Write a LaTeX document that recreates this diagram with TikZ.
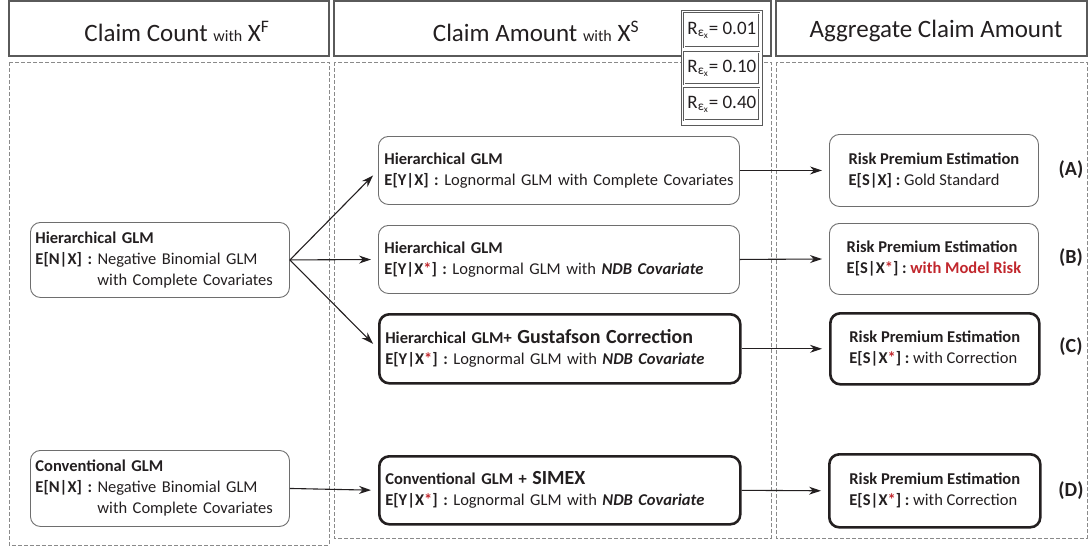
\documentclass[tikz,border=0pt]{standalone}
\usepackage{fontspec}
\setmainfont{Carlito}
\usetikzlibrary{arrows.meta}
\definecolor{txt}{HTML}{231F20}
\definecolor{boxgray}{HTML}{6E6E6E}
\definecolor{hdrgray}{HTML}{5A5A5A}
\definecolor{dashgray}{HTML}{8A8A8A}
\definecolor{errred}{HTML}{C1272D}
\newcommand{\rs}{\textcolor{errred}{*}}
\frenchspacing
\tikzset{
  hdrbox/.style={draw=hdrgray, line width=1.2pt},
  panel/.style={draw=dashgray, line width=0.7pt, dash pattern=on 4pt off 2pt},
  title/.style={text=txt, font=\fontsize{25}{28}\selectfont, anchor=center, inner sep=0pt},
  gbox/.style={draw=boxgray, line width=0.9pt, rounded corners=10pt, text=txt, anchor=north west,
    font=\fontsize{16.5}{21}\selectfont\frenchspacing, align=left, inner sep=0pt},
  tbox/.style={gbox, draw=txt, line width=2.6pt},
  lab/.style={text=txt, font=\fontsize{20}{22}\selectfont\bfseries, inner sep=0pt},
  arr/.style={draw=txt, line width=1.1pt, -{Stealth[length=12pt,width=8pt]}, shorten >=7pt},
  rbox/.style={draw=hdrgray, line width=0.7pt, double=white, double distance=0.8pt, anchor=north west,
    minimum width=75pt, text=txt, font=\fontsize{19}{21}\selectfont, inner sep=0pt}
}
\begin{document}
\begin{tikzpicture}[x=1pt,y=-1pt]
\useasboundingbox (0,0) rectangle (1089,547);
% headers
\draw[hdrbox] (9,1) rectangle (329,56);
\draw[hdrbox] (334,1) rectangle (771,56);
\draw[hdrbox] (776,1) rectangle (1087,56);
\node[title] (t1) at (177,31) {Claim Count {\fontsize{16}{18}\selectfont with} X\textsuperscript{F}};
\node[title] (t2) at (536,31) {Claim Amount {\fontsize{16}{18}\selectfont with} X\textsuperscript{S}};
\node[title] (t3) at (936,31) {Aggregate Claim Amount};
% panels
\draw[panel] (9,62) rectangle (329,545);
\draw[panel] (334,62) rectangle (771,538);
\draw[panel] (776,62) rectangle (1087,538);
% R boxes
\draw[draw=hdrgray, line width=0.9pt, fill=white] (681,10) rectangle (762,125);
\node[rbox, minimum height=34pt] (ra) at (684,13) {R\textsubscript{ε\textsubscript{x}}= 0.01};
\node[rbox, minimum height=32pt] (rb) at (684,52) {R\textsubscript{ε\textsubscript{x}}= 0.10};
\node[rbox, minimum height=32pt] (rc) at (684,88) {R\textsubscript{ε\textsubscript{x}}= 0.40};
% left nodes
\node[gbox, minimum width=259pt, minimum height=75pt, text width=249pt, inner xsep=5pt] (l1) at (30,222)
  {\textbf{Hierarchical GLM}\\\textbf{E[N|X] :} Negative Binomial GLM\\\hspace*{62pt}with Complete Covariates};
\node[gbox, minimum width=259pt, minimum height=76pt, text width=249pt, inner xsep=5pt] (l2) at (30,450)
  {\textbf{Conventional GLM}\\\textbf{E[N|X] :} Negative Binomial GLM\\\hspace*{62pt}with Complete Covariates};
% middle nodes
\node[gbox, minimum width=361pt, minimum height=68pt, text width=349pt, inner xsep=6pt] (m1) at (378,136)
  {\textbf{Hierarchical GLM}\\\mbox{\textbf{E[Y|X] :} Lognormal GLM with Complete Covariates}};
\node[gbox, minimum width=361pt, minimum height=68pt, text width=349pt, inner xsep=6pt] (m2) at (378,225)
  {\textbf{Hierarchical GLM}\\\mbox{\textbf{E[Y|X\rs] :} Lognormal GLM with \textbf{\textit{NDB Covariate}}}};
\node[tbox, minimum width=361pt, minimum height=69pt, text width=349pt, inner xsep=6pt] (m3) at (378,313)
  {\textbf{Hierarchical GLM+ {\fontsize{20}{21}\selectfont Gustafson Correction}}\\\mbox{\textbf{E[Y|X\rs] :} Lognormal GLM with \textbf{\textit{NDB Covariate}}}};
\node[tbox, minimum width=361pt, minimum height=68pt, text width=349pt, inner xsep=6pt] (m4) at (378,455)
  {\textbf{Conventional GLM + {\fontsize{20}{21}\selectfont SIMEX}}\\\mbox{\textbf{E[Y|X\rs] :} Lognormal GLM with \textbf{\textit{NDB Covariate}}}};
% right nodes
\node[gbox, minimum width=209pt, minimum height=72pt] (r1) at (829,134)
  {\textbf{Risk Premium Estimation}\\\textbf{E[S|X] :} Gold Standard};
\node[gbox, minimum width=209pt, minimum height=71pt] (r2) at (829,223)
  {\textbf{Risk Premium Estimation}\\\textbf{E[S|X\rs] : \textcolor{errred}{with Model Risk}}};
\node[tbox, minimum width=209pt, minimum height=71pt] (r3) at (829,312)
  {\textbf{Risk Premium Estimation}\\\textbf{E[S|X\rs] :} with Correction};
\node[tbox, minimum width=211pt, minimum height=73pt] (r4) at (828,453)
  {\textbf{Risk Premium Estimation}\\\textbf{E[S|X\rs] :} with Correction};
% labels
\node[lab] (la) at (1071,170) {(A)};
\node[lab] (lb) at (1071,258) {(B)};
\node[lab] (lc) at (1071,347) {(C)};
\node[lab] (ld) at (1071,491) {(D)};
% arrows
\draw[arr] (l1.east) -- (m1.west);
\draw[arr] (l1.east) -- (m2.west);
\draw[arr] (l1.east) -- (m3.west);
\draw[arr] (l2.east) -- (m4.west);
\draw[arr] (m1.east) -- (r1.west);
\draw[arr] (m2.east) -- (r2.west);
\draw[arr] (m3.east) -- (r3.west);
\draw[arr] (m4.east) -- (r4.west);
\end{tikzpicture}
\end{document}
